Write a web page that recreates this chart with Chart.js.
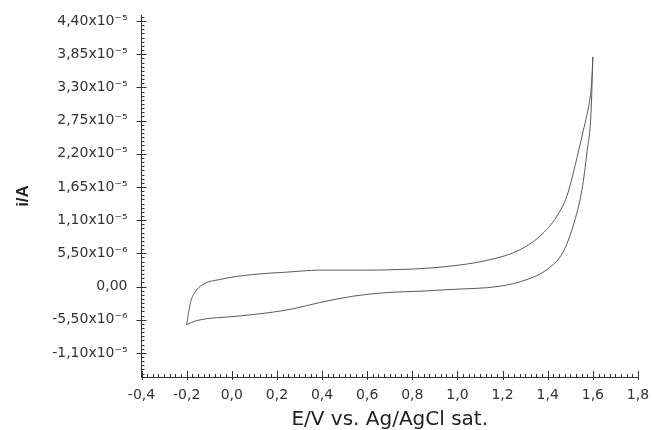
<!DOCTYPE html>
<html>
<head>
<meta charset="utf-8">
<script src="https://cdn.jsdelivr.net/npm/chart.js@4"></script>
<style>
  html, body { margin: 0; padding: 0; background: #fff; }
</style>
</head>
<body>
<canvas id="cvChart" width="652" height="430"></canvas>
<script>
// anodic (forward) scan, -0.2 V -> 1.6 V
var forwardE = [-0.20, -0.183, -0.164, -0.128, -0.053, 0.093, 0.244, 0.390, 0.612, 0.745, 0.834, 0.967, 1.113, 1.264, 1.366, 1.441, 1.485, 1.521, 1.556, 1.574, 1.587, 1.595, 1.60];
var forwardI = [-6.31e-6, -2.66e-6, -1.0e-6, 0.33e-6, 1.16e-6, 1.99e-6, 2.38e-6, 2.71e-6, 2.71e-6, 2.82e-6, 2.95e-6, 3.37e-6, 4.2e-6, 5.87e-6, 8.36e-6, 1.168e-5, 1.5e-5, 2.0e-5, 2.56e-5, 2.85e-5, 3.11e-5, 3.42e-5, 3.805e-5];
// cathodic (reverse) scan, 1.6 V -> -0.2 V
var reverseE = [1.60, 1.592, 1.574, 1.552, 1.512, 1.467, 1.397, 1.308, 1.188, 0.967, 0.834, 0.687, 0.537, 0.390, 0.271, 0.169, 0.021, -0.156, -0.20];
var reverseI = [3.805e-5, 2.89e-5, 2.23e-5, 1.61e-5, 1.0e-5, 5.65e-6, 2.82e-6, 1.16e-6, 0.05e-6, -0.5e-6, -0.78e-6, -1.0e-6, -1.61e-6, -2.66e-6, -3.7e-6, -4.32e-6, -4.93e-6, -5.65e-6, -6.31e-6];

var xTicks = [-0.4, -0.2, 0.0, 0.2, 0.4, 0.6, 0.8, 1.0, 1.2, 1.4, 1.6, 1.8];
var xTickLabels = ["-0,4", "-0,2", "0,0", "0,2", "0,4", "0,6", "0,8", "1,0", "1,2", "1,4", "1,6", "1,8"];
var yTicks = [-1.1e-5, -5.5e-6, 0, 5.5e-6, 1.1e-5, 1.65e-5, 2.2e-5, 2.75e-5, 3.3e-5, 3.85e-5, 4.4e-5];
var yTickLabels = ["-1,10x10⁻⁵", "-5,50x10⁻⁶", "0,00", "5,50x10⁻⁶", "1,10x10⁻⁵", "1,65x10⁻⁵", "2,20x10⁻⁵", "2,75x10⁻⁵", "3,30x10⁻⁵", "3,85x10⁻⁵", "4,40x10⁻⁵"];

function pts(xs, ys){
    return xs.map(function(v, k){ return {x: v, y: ys[k]}; });
}

var lineColor = "#5a5a5a";
var axisColor = "#333";
var tickFont = { family: "'DejaVu Sans', sans-serif", size: 14 };

// small inward tick marks, 7 minor ticks between two labelled ones
var axisTicks = {
    id: 'axisTicks',
    afterDraw: function(chart){
        var ctx = chart.ctx, a = chart.chartArea;
        var sx = chart.scales.x, sy = chart.scales.y;
        ctx.save();
        ctx.strokeStyle = axisColor;
        ctx.lineWidth = 1;
        ctx.beginPath();
        var xStep = (xTicks[1] - xTicks[0]) / 8;
        for (var k = 0; k <= (xTicks.length - 1) * 8; k++) {
            var px = Math.round(sx.getPixelForValue(xTicks[0] + k * xStep)) + 0.5;
            var major = k % 8 === 0;
            ctx.moveTo(px, a.bottom + (major ? 3 : 0));
            ctx.lineTo(px, a.bottom - (major ? 6 : 3));
        }
        var yStep = (yTicks[1] - yTicks[0]) / 8;
        for (var j = -6; j <= (yTicks.length - 1) * 8 + 1; j++) {
            var v = yTicks[0] + j * yStep;
            if (v < sy.min || v > sy.max) continue;
            var py = Math.round(sy.getPixelForValue(v)) + 0.5;
            var maj = ((j % 8) + 8) % 8 === 0;
            ctx.moveTo(a.left - (maj ? 5 : 0), py);
            ctx.lineTo(a.left + (maj ? 5 : 3), py);
        }
        ctx.stroke();
        ctx.restore();
    }
};

var ctx = document.getElementById("cvChart");
var cvChart = new Chart(ctx, {
    type: 'scatter',
    data: {
        datasets: [
            {
                label: "forward",
                data: pts(forwardE, forwardI),
                showLine: true,
                borderColor: lineColor,
                borderWidth: 1,
                pointRadius: 0,
                cubicInterpolationMode: 'monotone'
            },
            {
                label: "reverse",
                data: pts(reverseE, reverseI),
                showLine: true,
                borderColor: lineColor,
                borderWidth: 1,
                pointRadius: 0,
                cubicInterpolationMode: 'monotone'
            }
        ]
    },
    options: {
        responsive: false,
        animation: false,
        layout: { padding: { left: 0, right: 14, top: 15, bottom: 0 } },
        plugins: {
            legend: { display: false },
            tooltip: { enabled: false }
        },
        scales: {
            x: {
                type: 'linear',
                min: -0.4,
                max: 1.8,
                afterBuildTicks: function(scale){
                    scale.ticks = xTicks.map(function(v){ return {value: v}; });
                },
                afterFit: function(scale){
                    scale.height = 53;
                    scale.paddingLeft = 0;
                    scale.paddingRight = 0;
                },
                grid: { display: false, drawTicks: false },
                border: { display: true, color: axisColor, width: 1 },
                ticks: {
                    color: "#333",
                    padding: 10,
                    maxRotation: 0,
                    font: tickFont,
                    callback: function(v, idx){ return xTickLabels[idx]; }
                },
                title: {
                    display: true,
                    text: "E/V vs. Ag/AgCl sat.",
                    color: "#222",
                    padding: { top: 0, bottom: 0 },
                    font: { family: "'DejaVu Sans', sans-serif", size: 20, lineHeight: 1.0 }
                }
            },
            y: {
                type: 'linear',
                min: -1.5e-5,
                max: 4.5e-5,
                afterBuildTicks: function(scale){
                    scale.ticks = yTicks.map(function(v){ return {value: v}; });
                },
                afterFit: function(scale){
                    scale.width = 141.5;
                    scale.paddingTop = 0;
                    scale.paddingBottom = 0;
                },
                grid: { display: false, drawTicks: false },
                border: { display: true, color: axisColor, width: 1 },
                ticks: {
                    color: "#333",
                    padding: 14,
                    font: tickFont,
                    callback: function(v, idx){ return yTickLabels[idx]; }
                },
                title: {
                    display: true,
                    text: "i/A",
                    color: "#222",
                    padding: { top: 13, bottom: 0 },
                    font: { family: "'Liberation Sans', Arial, sans-serif", size: 17, weight: 'bold' }
                }
            }
        }
    },
    plugins: [axisTicks]
});
</script>
</body>
</html>
